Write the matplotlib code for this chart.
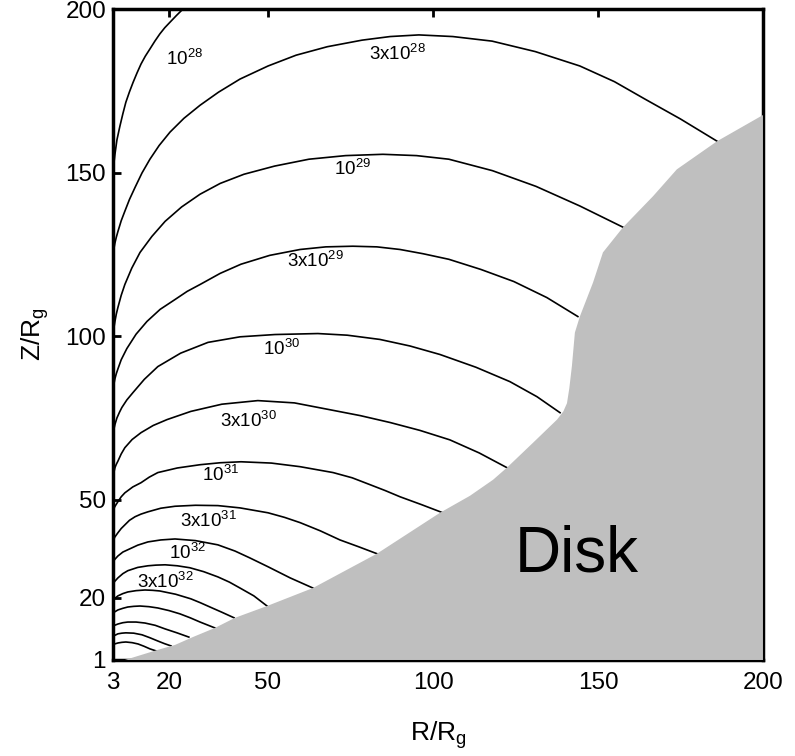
import numpy as np
import matplotlib
matplotlib.use('Agg')
import matplotlib.pyplot as plt

plt.rcParams['font.family'] = ['Liberation Sans', 'DejaVu Sans']
plt.rcParams['mathtext.fontset'] = 'custom'
plt.rcParams['mathtext.rm'] = 'Liberation Sans'
plt.rcParams['mathtext.it'] = 'Liberation Sans:italic'

# Contour lines (R/Rg, Z/Rg)
R_1e28 = [3.0, 3.3, 3.6, 4.2, 5.1, 6.0, 6.9, 8.0, 9.1, 10.3, 11.5, 12.8, 14.2, 15.7, 17.2, 18.7, 20.3, 22.2, 24.2, 26.3]
Z_1e28 = [150.1, 153.0, 155.6, 160.0, 164.2, 168.0, 171.5, 174.7, 177.6, 180.5, 183.2, 185.6, 187.8, 190.2, 192.4, 194.3, 196.0, 198.0, 200.0, 201.9]

R_3e28 = [3.0, 3.2, 3.6, 4.0, 4.5, 5.5, 6.6, 8.0, 9.7, 11.8, 14.2, 17.0, 20.3, 24.5, 29.4, 35.0, 41.5, 50.0,
          58.5, 68.0, 78.5, 87.0, 95.7, 106.0, 117.9, 131.0, 144.5, 155.0, 164.2, 175.0, 186.1]
Z_3e28 = [125.0, 126.3, 128.5, 130.2, 132.0, 135.3, 138.2, 141.8, 145.5, 149.9, 154.1, 158.3, 162.4, 166.6, 170.6, 174.6, 178.6, 182.6,
          185.9, 188.5, 190.5, 191.6, 192.1, 191.6, 190.2, 187.0, 182.6, 177.8, 172.5, 166.4, 159.6]

R_1e29 = [3.0, 3.2, 3.6, 4.0, 4.5, 5.5, 6.6, 8.7, 11.2, 14.8, 18.8, 23.8, 29.4, 35.5, 42.7, 52.0, 62.4, 73.5,
          84.8, 95.0, 104.8, 118.0, 131.2, 144.5, 157.6]
Z_1e29 = [100.5, 102.0, 104.5, 106.7, 108.8, 112.5, 115.8, 120.8, 125.6, 130.5, 135.1, 139.5, 143.4, 146.7, 149.5, 152.0, 154.1, 155.2,
          155.6, 155.2, 154.1, 150.6, 145.8, 139.8, 133.3]

R_3e29 = [3.0, 3.2, 3.6, 4.0, 4.5, 5.5, 7.2, 10.0, 13.3, 17.3, 21.8, 25.5, 29.4, 35.5, 41.8, 50.5, 59.7, 67.5,
          75.7, 83.0, 90.0, 97.0, 104.8, 114.5, 124.5, 134.5, 143.9]
Z_3e29 = [83.7, 84.9, 87.0, 88.5, 90.0, 92.8, 96.2, 100.6, 104.5, 108.2, 111.2, 113.7, 115.8, 119.2, 122.0, 124.7, 126.5, 127.3,
          127.5, 127.3, 126.5, 125.2, 123.5, 120.4, 116.7, 111.8, 106.0]

R_1e30 = [3.0, 3.2, 3.6, 4.2, 5.0, 5.7, 7.2, 9.1, 12.5, 16.6, 23.5, 31.8, 41.5, 52.1, 65.1, 74.0, 83.9, 93.0,
          102.1, 113.0, 123.3, 131.5, 138.5]
Z_1e30 = [69.9, 71.2, 73.0, 75.0, 76.8, 78.2, 80.5, 82.8, 86.8, 90.7, 94.8, 98.1, 99.8, 100.5, 100.8, 100.3, 99.0, 97.0,
          94.4, 90.5, 86.1, 81.5, 76.6]

R_3e30 = [3.0, 3.2, 3.6, 4.0, 4.5, 5.5, 6.6, 8.8, 11.5, 15.2, 19.4, 26.6, 36.0, 46.9, 58.0, 68.8, 78.0, 87.0,
          96.0, 105.1, 114.0, 122.4]
Z_3e30 = [56.7, 58.0, 59.8, 60.8, 61.8, 64.0, 65.9, 68.4, 70.5, 72.7, 74.5, 77.0, 79.2, 80.3, 79.6, 77.5, 75.7, 73.6,
          71.2, 68.3, 64.3, 59.8]

R_1e31 = [3.0, 3.5, 4.5, 5.5, 6.6, 9.0, 11.5, 14.0, 16.6, 22.5, 29.4, 35.5, 41.8, 51.0, 59.7, 69.7, 75.5, 80.9,
          85.5, 90.0, 96.5, 103.0]
Z_1e31 = [46.3, 47.8, 49.4, 50.9, 52.1, 53.9, 55.2, 56.9, 58.3, 59.7, 60.7, 61.3, 61.6, 61.2, 60.1, 58.3, 56.7, 54.6,
          52.8, 50.9, 48.5, 46.0]

R_3e31 = [3.0, 3.5, 4.5, 5.5, 6.6, 8.0, 9.7, 11.5, 13.6, 17.5, 21.8, 28.0, 34.8, 41.5, 50.0, 55.0, 59.7, 65.8,
          71.8, 77.5, 83.0]
Z_3e31 = [37.1, 38.5, 39.9, 41.2, 42.3, 43.7, 44.8, 45.6, 46.3, 47.4, 48.0, 48.3, 48.2, 47.5, 46.0, 44.6, 43.0, 40.5,
          37.7, 35.6, 33.5]

R_1e32 = [3.0, 3.5, 4.5, 6.0, 7.5, 10.5, 13.6, 17.5, 21.8, 28.0, 34.8, 40.0, 44.5, 50.0, 56.7, 63.6]
Z_1e32 = [30.7, 31.7, 32.8, 34.0, 34.7, 36.1, 37.1, 37.7, 38.0, 37.5, 36.2, 34.3, 32.2, 29.5, 26.1, 23.0]

R_3e32 = [3.0, 3.5, 4.5, 6.0, 7.5, 10.5, 13.6, 16.0, 18.8, 22.5, 26.3, 30.5, 34.8, 38.3, 41.5, 45.7, 49.7]
Z_3e32 = [24.0, 25.0, 26.1, 27.4, 28.3, 29.3, 29.8, 30.0, 30.1, 29.8, 29.2, 28.0, 26.4, 24.8, 23.0, 20.6, 17.5]

R_1e33 = [3.0, 3.5, 4.5, 6.0, 7.5, 10.0, 12.7, 15.0, 17.2, 22.0, 26.6, 29.5, 32.4, 36.0, 39.7]
Z_1e33 = [19.1, 19.8, 20.6, 21.3, 21.8, 22.2, 22.4, 22.3, 22.1, 21.1, 19.7, 18.5, 17.2, 15.6, 13.9]

R_3e33 = [3.0, 3.5, 4.5, 6.0, 7.5, 9.3, 11.2, 13.9, 16.6, 20.0, 23.3, 26.4, 29.4, 33.9]
Z_3e33 = [15.1, 15.7, 16.3, 16.8, 17.2, 17.4, 17.5, 17.3, 16.9, 16.1, 15.1, 13.9, 12.6, 10.8]

R_1e34 = [3.0, 3.5, 4.5, 6.0, 7.5, 10.0, 12.7, 15.8, 18.8, 22.4, 26.0]
Z_1e34 = [11.1, 11.6, 12.0, 12.4, 12.6, 12.6, 12.3, 11.6, 10.5, 9.3, 8.0]

R_3e34 = [3.0, 3.5, 4.5, 5.7, 6.9, 9.3, 11.8, 14.2, 16.6, 18.6, 20.6]
Z_3e34 = [8.0, 8.5, 9.0, 9.2, 9.3, 9.2, 8.7, 7.8, 6.8, 6.0, 5.3]

R_1e35 = [3.0, 3.5, 4.5, 5.7, 6.9, 8.8, 10.6, 12.4, 14.2, 16.0]
Z_1e35 = [5.6, 5.9, 6.2, 6.4, 6.5, 6.3, 5.9, 5.2, 4.4, 3.8]

# Disk surface
disk_R = [6.6, 16.6, 21.8, 27.2, 33.9, 40.0, 49.7, 63.6, 83.0, 102.1, 111.2, 118.2, 122.4,
          130.3, 137.6, 139.5, 140.6, 141.3, 142.1, 143.0, 144.5, 148.5, 151.5, 157.6, 166.7, 173.9, 186.1, 200.0]
disk_Z = [1.0, 4.1, 5.6, 8.0, 10.8, 13.9, 17.5, 23.0, 33.5, 46.0, 51.2, 56.1, 59.8,
          67.4, 74.5, 77.0, 79.5, 84.0, 90.9, 101.1, 106.0, 116.4, 125.6, 133.3, 142.8, 151.0, 159.6, 167.6]

# Contour labels
label_text = ['10$^{28}$', '3x10$^{28}$', '10$^{29}$', '3x10$^{29}$', '10$^{30}$',
              '3x10$^{30}$', '10$^{31}$', '3x10$^{31}$', '10$^{32}$', '3x10$^{32}$']
label_R = [24.8, 89.1, 75.7, 64.5, 54.2, 44.2, 35.7, 31.8, 25.7, 18.8]
label_Z = [184.7, 186.2, 151.0, 122.9, 96.2, 74.2, 57.6, 43.6, 33.6, 25.0]

curves = [(R_1e28, Z_1e28), (R_3e28, Z_3e28), (R_1e29, Z_1e29), (R_3e29, Z_3e29),
          (R_1e30, Z_1e30), (R_3e30, Z_3e30), (R_1e31, Z_1e31), (R_3e31, Z_3e31),
          (R_1e32, Z_1e32), (R_3e32, Z_3e32), (R_1e33, Z_1e33), (R_3e33, Z_3e33),
          (R_1e34, Z_1e34), (R_3e34, Z_3e34), (R_1e35, Z_1e35)]

fig = plt.figure(figsize=(7.95, 7.56), dpi=100)
ax = fig.add_axes([0.1421, 0.127, 0.8176, 0.861])

for r, z in curves:
    ax.plot(r, z, color='black', lw=1.2, zorder=2, solid_joinstyle='round')

# grey disk, closed along the bottom-right corner
ax.fill(disk_R + [200.0], disk_Z + [1.0], color='#bfbfbf', lw=0, zorder=3)
ax.text(143.6, 33.1, 'Disk', fontsize=46, ha='center', va='center', zorder=4)

for t, r, z in zip(label_text, label_R, label_Z):
    ax.text(r, z, t, fontsize=13.5, ha='center', va='center', zorder=4)

ax.set_xlim(3, 200)
ax.set_ylim(1, 200)
ax.set_xticks([3, 20, 50, 100, 150, 200])
ax.set_yticks([1, 20, 50, 100, 150, 200])
ax.tick_params(direction='in', length=6, width=2, labelsize=17.5, top=True, right=True)
ax.tick_params(axis='x', pad=9)
ax.tick_params(axis='y', pad=5)
for s in ax.spines.values():
    s.set_linewidth(2.5)

ax.set_xlabel('R/R$_\\mathrm{g}$', fontsize=19, labelpad=18)
ax.set_ylabel('Z/R$_\\mathrm{g}$', fontsize=19, labelpad=10)

fig.savefig('out.png', dpi=100)
